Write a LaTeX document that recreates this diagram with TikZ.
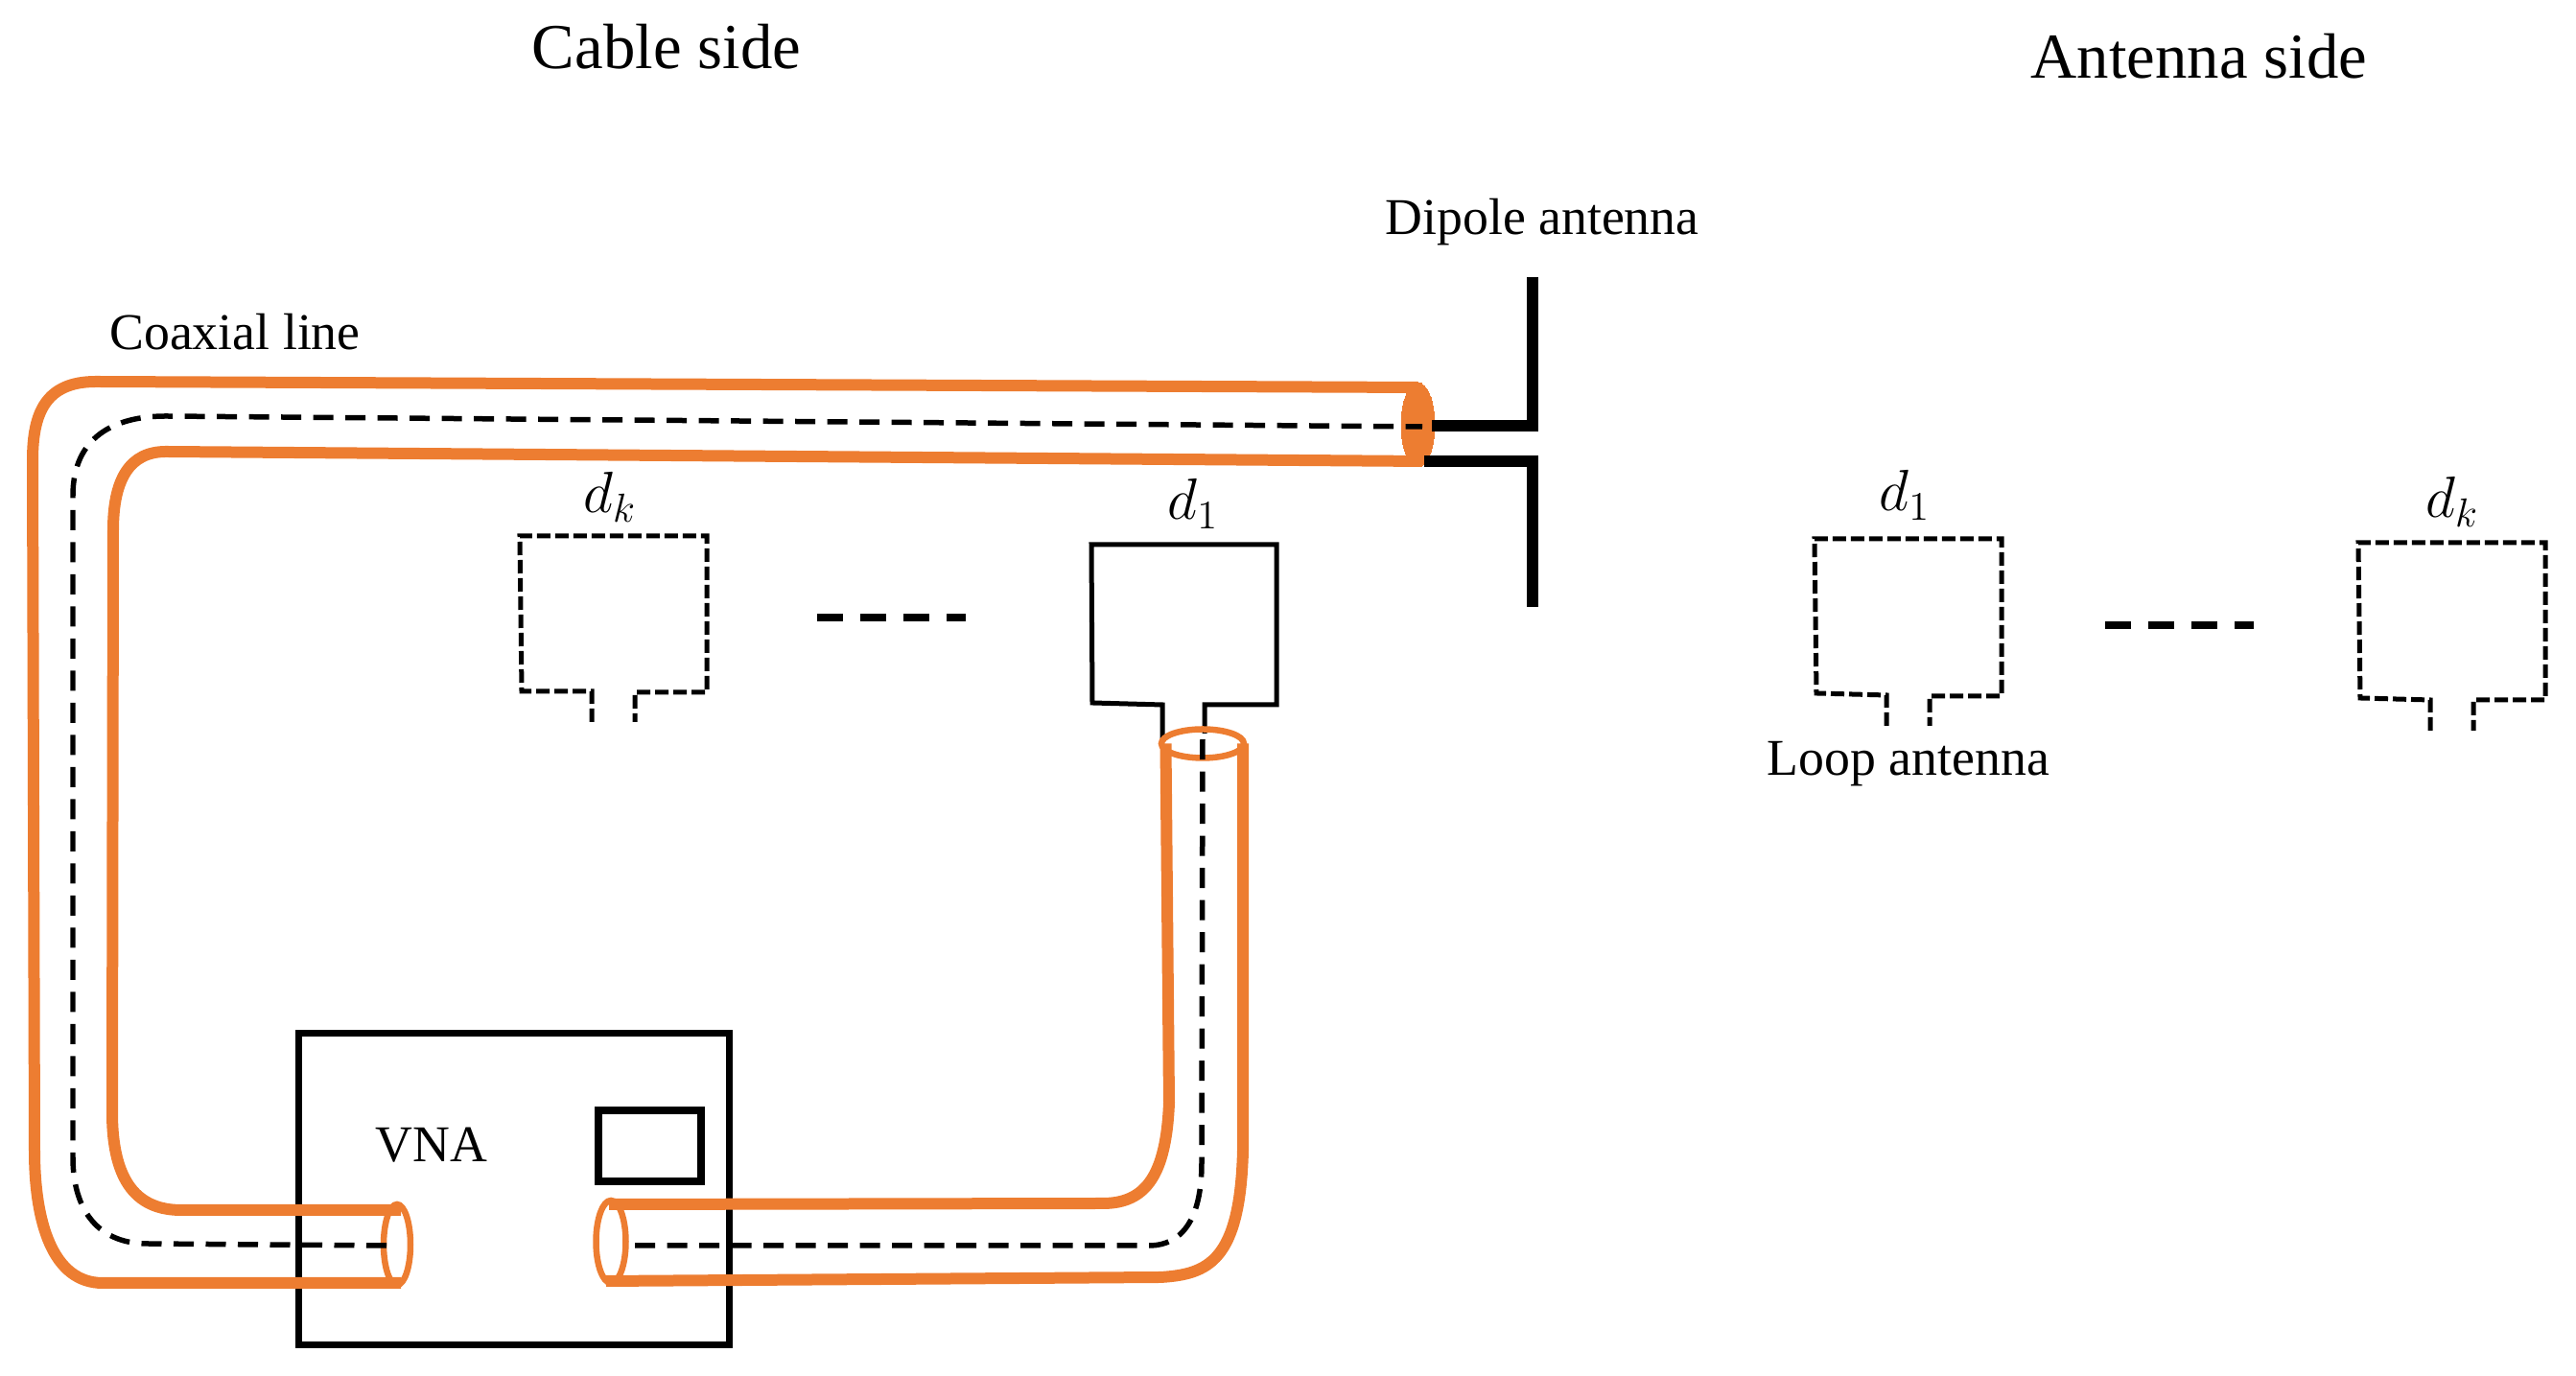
\documentclass[tikz,border=0pt]{standalone}
\usepackage{fontspec}
\setmainfont{Liberation Serif}
\usepackage{amsmath}
\usetikzlibrary{shapes.geometric}
\usetikzlibrary{positioning}
\definecolor{coaxorange}{HTML}{ED7D31}

\begin{document}
\begin{tikzpicture}[coax/.style={draw=coaxorange, line width=0.12cm},
	rim/.style={ellipse, draw=coaxorange, line width=0.065cm, inner sep=0pt},
	core/.style={line width=0.055cm, dash pattern=on 0.21cm off 0.125cm},
	loopline/.style={line width=0.05cm},
	loopdash/.style={line width=0.05cm, dash pattern=on 0.14cm off 0.05cm},
	gapdash/.style={line width=0.08cm, dash pattern=on 0.27cm off 0.18cm},
	dipole/.style={line width=0.12cm},
	smalltext/.style={anchor=base, inner sep=0pt, font=\fontsize{15.3}{18}\selectfont},
	disttext/.style={anchor=base, inner sep=0pt, font=\fontsize{17.28}{20}\selectfont},
	bigtext/.style={anchor=base, inner sep=0pt, font=\fontsize{19}{23}\selectfont}]
		\useasboundingbox (0,0) rectangle (26.86,14.35);

		\node[bigtext] (cableside) at (6.95,13.63) {Cable side};
		\node[bigtext] (antennaside) at (22.93,13.53) {Antenna side};
		\node[smalltext] (dipolelabel) at (16.08,11.90) {Dipole antenna};
		\node[smalltext] (coaxlabel) at (2.45,10.70) {Coaxial line};
		\node[smalltext] (vnalabel) at (4.50,2.23) {VNA};
		\node[smalltext] (looplabel) at (19.90,6.26) {Loop antenna};
		\node[disttext] (dkcable) at (6.36,9.00) {$d_k$};
		\node[disttext] (donecable) at (12.44,8.93) {$d_1$};
		\node[disttext] (doneant) at (19.86,9.02) {$d_1$};
		\node[disttext] (dkant) at (25.57,8.95) {$d_k$};

		\draw[line width=0.07cm] (3.11,0.325) rectangle (7.60,3.57);
		\draw[line width=0.075cm] (6.24,2.03) rectangle (7.31,2.77);

		\draw[loopdash] (6.17,6.82) -- (6.17,7.14) -- (5.44,7.14) -- (5.42,8.76) -- (7.37,8.76)
			-- (7.37,7.13) -- (6.62,7.13) -- (6.62,6.82);
		\draw[loopline] (12.12,6.65) -- (12.12,7.0) -- (11.39,7.02) -- (11.38,8.67) -- (13.31,8.67)
			-- (13.31,7.0) -- (12.56,7.0) -- (12.56,6.7);
		\draw[loopdash] (19.67,6.78) -- (19.67,7.1) -- (18.94,7.12) -- (18.92,8.73) -- (20.87,8.73)
			-- (20.87,7.09) -- (20.12,7.09) -- (20.12,6.78);
		\draw[loopdash] (25.34,6.73) -- (25.34,7.05) -- (24.61,7.07) -- (24.59,8.69) -- (26.54,8.69)
			-- (26.54,7.05) -- (25.79,7.05) -- (25.79,6.73);
		\draw[gapdash] (8.52,7.91) -- (10.07,7.91);
		\draw[gapdash] (21.95,7.83) -- (23.50,7.83);

		\draw[coax] (4.18,0.97) -- (1.07,0.97) .. controls (0.55,0.97) and (0.36,1.60) .. (0.36,2.35)
			-- (0.34,9.55) .. controls (0.34,10.05) and (0.48,10.37) .. (1.00,10.37) -- (14.78,10.31);
		\draw[coax] (4.18,1.73) -- (1.89,1.73) .. controls (1.45,1.73) and (1.17,2.0) .. (1.17,2.75)
			-- (1.18,8.82) .. controls (1.18,9.35) and (1.35,9.64) .. (1.73,9.64) -- (14.83,9.54);
		\draw[coax] (6.35,1.79) -- (11.50,1.80) .. controls (11.95,1.80) and (12.16,2.1) .. (12.19,2.85)
			-- (12.155,6.595);
		\draw[coax] (6.32,0.99) -- (12.1,1.03) .. controls (12.6,1.06) and (12.93,1.2) .. (12.96,2.35)
			-- (12.96,6.595);

		\node[rim, minimum width=0.28cm, minimum height=0.84cm] (leftend) at (4.14,1.37) {};
		\node[rim, minimum width=0.31cm, minimum height=0.86cm] (rightend) at (6.37,1.40) {};
		\node[rim, minimum width=0.86cm, minimum height=0.30cm] (topend) at (12.54,6.595) {};
		\node[rim, fill=coaxorange, line width=0pt, minimum width=0.35cm, minimum height=0.88cm] (dipoleend) at (14.785,9.92) {};

		\draw[core] (4.03,1.36) -- (1.53,1.38) .. controls (1.05,1.38) and (0.76,1.7) .. (0.76,2.28)
			-- (0.76,9.18) .. controls (0.76,9.8) and (1.2,10.01) .. (1.73,10.01) -- (14.83,9.90);
		\draw[core] (6.62,1.36) -- (12.0,1.36) .. controls (12.3,1.37) and (12.53,1.6) .. (12.53,2.22)
			-- (12.54,6.67);

		\draw[dipole] (14.93,9.91) -- (15.98,9.91) -- (15.98,11.46);
		\draw[dipole] (14.85,9.535) -- (15.98,9.535) -- (15.98,8.02);

	\end{tikzpicture}
\end{document}
